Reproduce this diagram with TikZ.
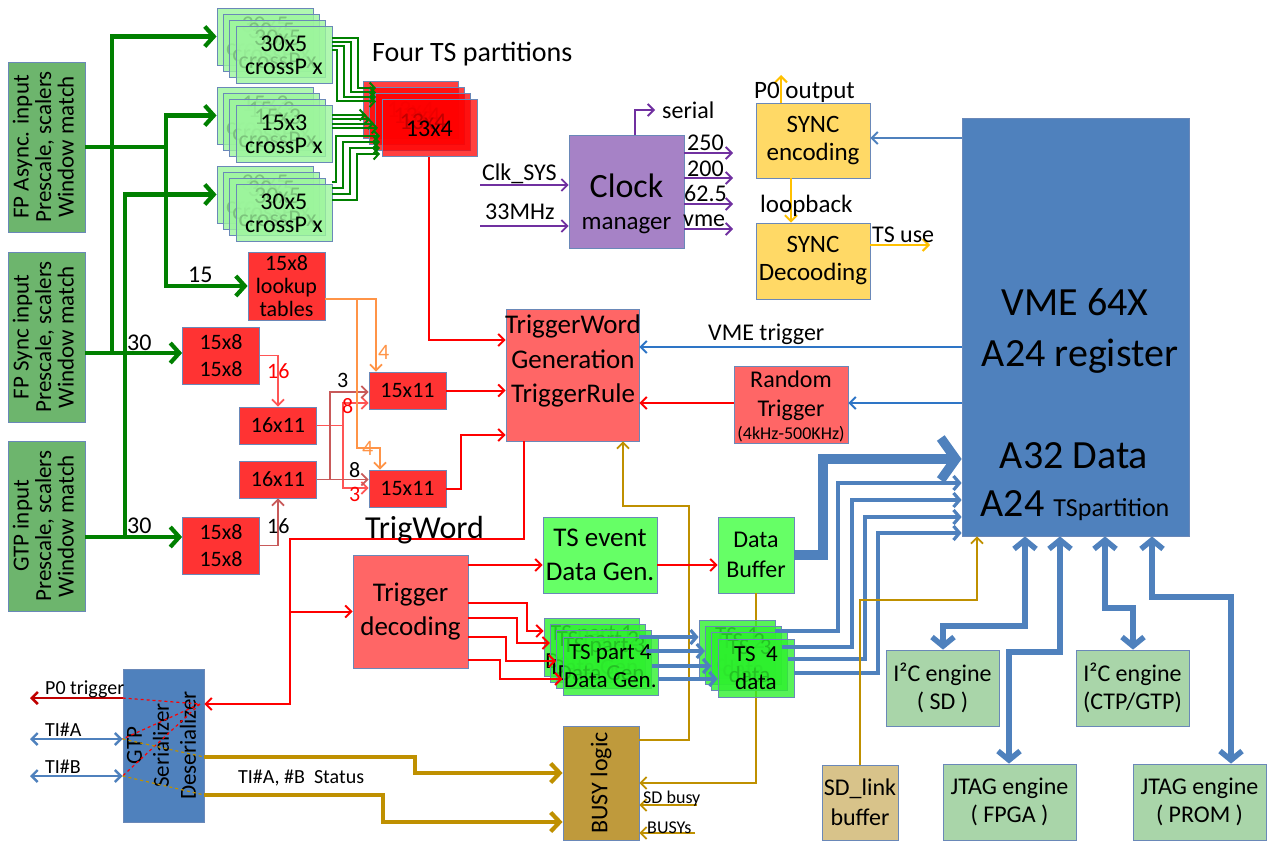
\documentclass[tikz,border=0pt]{standalone}
\usepackage{fontspec}
\usepackage{graphicx}
\setmainfont{Carlito}
\usetikzlibrary{arrows.meta,calc}
\newcommand{\fsz}[2]{\fontsize{#1}{#2}\selectfont}
\definecolor{lgreen}{HTML}{6DB56D}
\definecolor{cpgreen}{HTML}{9CF59C}
\definecolor{tsgreen}{HTML}{2EF02E}
\definecolor{brgreen}{HTML}{66FF66}
\definecolor{boxred}{HTML}{FF3333}
\definecolor{salmon}{HTML}{FF6666}
\definecolor{clockp}{HTML}{A682C6}
\definecolor{syncy}{HTML}{FFD966}
\definecolor{vmeblue}{HTML}{4F81BD}
\definecolor{busyc}{HTML}{BF9A3C}
\definecolor{sdlc}{HTML}{D8C38A}
\definecolor{engc}{HTML}{A9D5A9}
\definecolor{edgec}{HTML}{6A88B8}
\definecolor{gline}{HTML}{008000}
\definecolor{pline}{HTML}{7030A0}
\definecolor{bline}{HTML}{4F81BD}
\definecolor{vtline}{HTML}{2E75C6}
\definecolor{oline}{HTML}{FF9447}
\definecolor{lrline}{HTML}{FF5555}
\definecolor{brline}{HTML}{C85A5A}
\definecolor{goldl}{HTML}{BF9000}
\definecolor{yell}{HTML}{FFC000}
\definecolor{dred}{HTML}{C00000}
\definecolor{pureRed}{HTML}{FF0000}
\tikzset{
  bx/.style={draw=edgec, line width=0.8pt, inner sep=0pt, align=center, text=black},
  stk/.style={bx, fill opacity=0.8, text opacity=1},
  lbl/.style={inner sep=0pt, anchor=base west},
  lblc/.style={inner sep=0pt, anchor=base},
  sml/.style={-{Straight Barb[length=6pt,width=12pt]}},
  gthick/.style={draw=gline, line width=4.2pt, -{Straight Barb[length=9pt,width=20pt]}},
  gplain/.style={draw=gline, line width=4.2pt},
  gthin/.style={draw=gline, line width=2pt, -{Straight Barb[length=5pt,width=11pt]}},
  rarr/.style={draw=pureRed, line width=2pt, sml},
  lrarr/.style={draw=lrline, line width=1.8pt, sml},
  lrplain/.style={draw=lrline, line width=1.8pt},
  brarr/.style={draw=brline, line width=1.8pt, sml},
  oarr/.style={draw=oline, line width=1.8pt, sml},
  parr/.style={draw=pline, line width=1.8pt, sml},
  vtarr/.style={draw=vtline, line width=2pt, sml},
  barr/.style={draw=bline, line width=2pt, sml},
  bmed/.style={draw=bline, line width=3.2pt, -{Straight Barb[length=6pt,width=14pt]}},
  bthick/.style={draw=bline, line width=9.5pt, -{Straight Barb[length=15pt,width=42pt]}},
  bdbl/.style={draw=bline, line width=5.5pt, {Straight Barb[length=9pt,width=22pt]}-{Straight Barb[length=9pt,width=22pt]}},
  bdblthin/.style={draw=bline, line width=2.4pt, {Straight Barb[length=6pt,width=12pt]}-{Straight Barb[length=6pt,width=12pt]}},
  goldarr/.style={draw=goldl, line width=1.8pt, sml},
  goldthick/.style={draw=goldl, line width=4.2pt, -{Straight Barb[length=9pt,width=19pt]}},
  yarr/.style={draw=yell, line width=2pt, sml},
  dredarr/.style={draw=dred, line width=2.6pt, sml},
}
\begin{document}
\begin{tikzpicture}[x=1pt,y=-1pt]
\useasboundingbox (0,0) rectangle (1271,842);

% ---------- left input boxes
\node[bx, fill=lgreen, minimum width=77pt, minimum height=170pt] (fpa) at (46.5,147) {\rotatebox{90}{\fsz{23}{22}\begin{tabular}{@{}c@{}}FP Async. input\\Prescale, scalers\\Window match\end{tabular}}};
\node[bx, fill=lgreen, minimum width=77pt, minimum height=170pt] (fps) at (46.5,337) {\rotatebox{90}{\fsz{23}{22}\begin{tabular}{@{}c@{}}FP Sync input\\Prescale, scalers\\Window match\end{tabular}}};
\node[bx, fill=lgreen, minimum width=77pt, minimum height=170pt] (gtpin) at (46.5,526) {\rotatebox{90}{\fsz{23}{22}\begin{tabular}{@{}c@{}}GTP input\\Prescale, scalers\\Window match\end{tabular}}};

% ---------- crossP stacks
\foreach \i in {0,1,2,3} {
  \node[stk, fill=cpgreen, minimum width=96pt, minimum height=57pt, font=\fsz{24}{23}] (cpA\i) at ({265+6.3*\i},{36.5+6.3*\i}) {30x5\\crossP x};
}
\foreach \i in {0,1,2,3} {
  \node[stk, fill=cpgreen, minimum width=96pt, minimum height=57pt, font=\fsz{24}{23}] (cpB\i) at ({265+6.3*\i},{115.5+6.3*\i}) {15x3\\crossP x};
}
\foreach \i in {0,1,2,3} {
  \node[stk, fill=cpgreen, minimum width=96pt, minimum height=57pt, font=\fsz{24}{23}] (cpC\i) at ({265+6.3*\i},{194.5+6.3*\i}) {30x5\\crossP x};
}
% ---------- 13x4 stack
\foreach \i in {0,1,2,3} {
  \node[stk, fill=pureRed, fill opacity=0.75, minimum width=95pt, minimum height=57pt, font=\fsz{24}{24}] (tf\i) at ({410.5+6.3*\i},{109.5+6.3*\i}) {13x4};
}
\node[lbl, font=\fsz{28}{28}] (fourts) at (372,62) {Four TS partitions};

% ---------- red logic boxes
\node[bx, fill=boxred, minimum width=77pt, minimum height=68pt, font=\fsz{22}{23}] (lut) at (286.5,286) {15x8\\lookup\\tables};
\node[bx, fill=boxred, minimum width=77pt, minimum height=57pt, font=\fsz{22}{27}] (m1) at (221,355.5) {15x8\\15x8};
\node[bx, fill=boxred, minimum width=77pt, minimum height=57pt, font=\fsz{22}{27}] (m2) at (221,545.5) {15x8\\15x8};
\node[bx, fill=boxred, minimum width=77pt, minimum height=37pt, font=\fsz{22}{22}] (x1) at (278,425.5) {16x11};
\node[bx, fill=boxred, minimum width=77pt, minimum height=37pt, font=\fsz{22}{22}] (x2) at (278,479.5) {16x11};
\node[bx, fill=boxred, minimum width=77pt, minimum height=37pt, font=\fsz{22}{22}] (y1) at (407.5,390.5) {15x11};
\node[bx, fill=boxred, minimum width=77pt, minimum height=37pt, font=\fsz{22}{22}] (y2) at (407.5,488.5) {15x11};

% ---------- trigger word generation
\node[bx, fill=salmon, minimum width=133pt, minimum height=132pt] (tw) at (572.5,375) {};
\node[lblc, font=\fsz{27}{27}] (twA) at (573,333) {TriggerWord};
\node[lblc, font=\fsz{27}{27}] (twB) at (573,368) {Generation};
\node[lblc, font=\fsz{27}{27}] (twC) at (573,402) {TriggerRule};

\node[bx, fill=salmon, minimum width=114pt, minimum height=77pt] (rt) at (791,404.5) {};
\node[lblc, font=\fsz{24}{24}] (rtA) at (791,387) {Random};
\node[lblc, font=\fsz{24}{24}] (rtB) at (791,416) {Trigger};
\node[lblc, font=\fsz{18}{18}] (rtC) at (791,439) {(4kHz-500KHz)};

% ---------- clock
\node[bx, fill=clockp, minimum width=115pt, minimum height=113pt] (clk) at (626.5,191.5) {};
\node[lblc, font=\fsz{34}{34}] (clkA) at (626.5,198) {Clock};
\node[lblc, font=\fsz{25}{25}] (clkB) at (626.5,230) {manager};

\node[bx, fill=syncy, minimum width=114pt, minimum height=75pt, font=\fsz{25}{28}] (senc) at (813,140.5) {SYNC\\encoding};
\node[bx, fill=syncy, minimum width=114pt, minimum height=76pt, font=\fsz{25}{28}] (sdec) at (813,261) {SYNC\\Decooding};

% ---------- VME
\node[bx, fill=vmeblue, minimum width=227pt, minimum height=418pt] (vme) at (1075.5,327) {};
\node[lblc, font=\fsz{40}{40}] (vt1) at (1075,316) {VME 64X};
\node[lblc, font=\fsz{40}{40}] (vt2) at (1080,366) {A24 register};
\node[lblc, font=\fsz{40}{40}] (vt3) at (1074,468) {A32 Data};
\node[lblc, font=\fsz{40}{40}] (vt4) at (1075,516) {A24 {\fsz{26}{26}TSpartition}};

% ---------- lower middle
\node[bx, fill=salmon, minimum width=115pt, minimum height=113pt, font=\fsz{27}{34}] (td) at (410.5,611.5) {Trigger\\decoding};
\node[bx, fill=brgreen, minimum width=114pt, minimum height=76pt, font=\fsz{27}{34}] (te) at (600,555) {TS event\\Data Gen.};
\node[bx, fill=brgreen, minimum width=76pt, minimum height=76pt, font=\fsz{24}{30}] (db) at (756,555) {Data\\Buffer};
\node[bx, fill=busyc, minimum width=76pt, minimum height=114pt] (busy) at (601,783) {\rotatebox{90}{\fsz{24}{24}BUSY logic}};
\node[bx, fill=sdlc, minimum width=76pt, minimum height=75pt, font=\fsz{24}{30}] (sdl) at (860,802.5) {SD\_link\\buffer};

% ---------- gold lines under the stacks
\draw[goldarr] (busy.east |- 0,740) -| (689,506) -| (tw.south -| 623,0);
\draw[goldarr] (db.south) |- (busy.east);

\foreach \i/\n in {0/1,1/2,2/3,3/4} {
  \node[stk, fill=tsgreen, minimum width=95pt, minimum height=58pt, font=\fsz{23}{28}] (p\i) at ({591.5+6.3*\i},{647+6.3*\i}) {TS part \n\\Data Gen.};
}
\foreach \i/\n in {0/1,1/2,2/3,3/4} {
  \node[stk, fill=tsgreen, minimum width=76pt, minimum height=58pt, font=\fsz{23}{28}] (d\i) at ({737+6.3*\i},{649+6.3*\i}) {TS\ \ \n\\data};
}

% ---------- engines
\node[bx, fill=engc, minimum width=113pt, minimum height=76pt, font=\fsz{24}{28}] (i2c1) at (942.5,688) {I²C engine\\( SD )};
\node[bx, fill=engc, minimum width=113pt, minimum height=76pt, font=\fsz{24}{28}] (i2c2) at (1132.5,688) {I²C engine\\(CTP/GTP)};
\node[bx, fill=engc, minimum width=133pt, minimum height=76pt, font=\fsz{24}{28}] (jf) at (1009.5,802) {JTAG engine\\( FPGA )};
\node[bx, fill=engc, minimum width=133pt, minimum height=76pt, font=\fsz{24}{28}] (jp) at (1199.5,802) {JTAG engine\\( PROM )};

% ---------- GTP serializer
\node[bx, fill=vmeblue, minimum width=77pt, minimum height=153pt] (gtp) at (163.5,745.5) {\rotatebox{90}{\fsz{23}{27}\begin{tabular}{@{}c@{}}GTP\\Serializer\\Deserializer\end{tabular}}};

% ================= connectors =================
% green thick
\draw[gplain] (fpa.east) -- (166,147);
\draw[gthick] (166,147) |- (cpB0.west);
\draw[gthick] (166,147) |- (lut.west);
\draw[gthick] (fps.east |- 0,353) -- (m1.west |- 0,353);
\draw[gthick] (112,353) |- (cpA0.west);
\draw[gthick] (gtpin.east |- 0,537) -- (m2.west |- 0,537);
\draw[gthick] (125,537) |- (cpC0.west);
\node[lbl, font=\fsz{24}{24}] (n30a) at (127,350) {30};
\node[lbl, font=\fsz{24}{24}] (n30b) at (127,533) {30};
\node[lbl, font=\fsz{24}{24}] (n15) at (188,283) {15};

% green thin bundles to 13x4
\foreach \i in {0,1,2,3} {
  \draw[gthin] (cpA3.east |- 0,{38+4*\i}) -- ({358-7*\i},{38+4*\i}) -- ({358-7*\i},{88+4.5*\i}) -- (376,{88+4.5*\i});
  \draw[gthin] (cpB3.east |- 0,{115+4.3*\i}) -- ({366+4*\i},{115+4.3*\i});
  \draw[gthin] (cpC3.east |- 0,{182+6*\i}) -- ({336+7*\i},{182+6*\i}) -- ({336+7*\i},{136+6*\i}) -- (380,{136+6*\i});
}

% 13x4 to trigger word
\draw[rarr] (tf3.south) |- (tw.west |- 0,340);

% lookup / 16x11 / 15x11 network
\draw[lrarr] (m1.east) -| (x1.north);
\draw[brarr] (m2.east) -| (x2.south);
\node[lbl, font=\fsz{22}{22}, text=pureRed] (n16a) at (267,378) {16};
\node[lbl, font=\fsz{22}{22}] (n16b) at (267,533) {16};
\draw[lrplain] (x1.east) -- (343,425.5);
\draw[lrarr] (343,425.5) |- (y1.west |- 0,403);
\draw[lrarr] (343,425.5) |- (y2.west |- 0,488);
\draw[brarr] (x2.east) -- (y2.west |- x2.east);
\draw[brarr] (x2.east) -- (330,479.5) |- (y1.west |- 0,392);
\draw[oarr] (lut.east |- 0,299) -| (y1.north -| 376,0);
\draw[oarr] (357,299) -- (357,448) -| (y2.north -| 380,0);
\node[lbl, font=\fsz{22}{22}, text=oline] (n4a) at (378,359) {4};
\node[lbl, font=\fsz{22}{22}, text=oline] (n4b) at (362,455) {4};
\node[lbl, font=\fsz{22}{22}] (n3a) at (337,387) {3};
\node[lbl, font=\fsz{22}{22}, text=pureRed] (n8a) at (342,413) {8};
\node[lbl, font=\fsz{22}{22}] (n8b) at (349,477) {8};
\node[lbl, font=\fsz{22}{22}, text=pureRed] (n3b) at (349,501) {3};
\draw[rarr] (y1.east) -- (tw.west |- y1.east);
\draw[rarr] (y2.east) -- (461,488.5) |- (tw.west |- 0,435);

% trigword loop
\draw[rarr] (tw.south -| 524,0) |- (290,539) |- (gtp.east |- 0,704);
\draw[rarr] (290,611.5) -- (td.west);
\node[lbl, font=\fsz{32}{32}] (trigword) at (365,538) {TrigWord};

% trigger decoding outputs
\draw[rarr] (td.east |- 0,565) -- (te.west |- 0,565);
\draw[rarr] (te.east |- 0,565) -- (db.west |- 0,565);
\draw[rarr] (td.east |- 0,603) -- (527,603) -- (527,631) -- (p0.west |- 0,631);
\draw[rarr] (td.east |- 0,618) -- (517,618) -- (517,643) -- (p1.west |- 0,643);
\draw[rarr] (td.east |- 0,637) -- (506,637) -- (506,661) -- (p2.west |- 0,661);
\draw[rarr] (td.east |- 0,660) -- (500,660) -- (500,679) -- (p3.west |- 0,679);

% TS part -> TS data
\draw[bmed] (p0.east |- 0,637) -- (d0.west |- 0,637);
\draw[bmed] (p1.east |- 0,651) -- (d1.west |- 0,651);
\draw[bmed] (p2.east |- 0,666) -- (d2.west |- 0,666);
\draw[bmed] (p3.east |- 0,679) -- (d3.west |- 0,679);

% TS data -> VME
\draw[bmed] (d0.east |- 0,631) -| (838,483) -- (vme.west |- 0,483);
\draw[bmed] (d1.east |- 0,647) -| (852,500) -- (vme.west |- 0,500);
\draw[bmed] (d2.east |- 0,659) -| (865,517) -- (vme.west |- 0,517);
\draw[bmed] (d3.east |- 0,673) -| (878,533) -- (vme.west |- 0,533);

% data buffer -> VME
\draw[bthick] (db.east) -- (823,555) |- (vme.west |- 0,459);

% VME -> engines
\draw[bdbl] (vme.south -| 1025,0) |- (943,626) -- (i2c1.north -| 943,0);
\draw[bdbl] (vme.south -| 1060,0) |- (1009,652) -- (jf.north -| 1009,0);
\draw[bdbl] (vme.south -| 1105,0) |- (1133,608) -- (i2c2.north -| 1133,0);
\draw[bdbl] (vme.south -| 1152,0) |- (1231,597) -- (jp.north -| 1231,0);

% gold
\draw[goldarr] (697,805) -- (busy.east |- 0,805);
\draw[goldarr] (695,833) -- (busy.east |- 0,833);
\node[lbl, font=\fsz{18}{18}] (sdbusy) at (643,803) {SD busy};
\node[lbl, font=\fsz{18}{18}] (busys) at (647,833) {BUSYs};
\draw[goldarr] (sdl.north) |- (977,600) -- (vme.south -| 977,0);
\draw[goldthick] (gtp.east |- 0,757) -| (415,773) -- (busy.west |- 0,773);
\draw[goldthick] (gtp.east |- 0,795) -| (383,822) -- (busy.west |- 0,822);
\node[lbl, font=\fsz{20}{20}] (tistat) at (238,783) {TI\#A, \#B\ \ Status};

% GTP
\draw[dredarr] (gtp.west |- 0,698) -- (30,698);
\draw[bdblthin] (30,739) -- (gtp.west |- 0,739);
\draw[bdblthin] (30,776) -- (gtp.west |- 0,776);
\node[lbl, font=\fsz{20}{20}] (p0trig) at (45,694) {P0 trigger};
\node[lbl, font=\fsz{20}{20}] (tia) at (45,736) {TI\#A};
\node[lbl, font=\fsz{20}{20}] (tib) at (45,773) {TI\#B};
\draw[pureRed, dashed, line width=1.2pt] (gtp.west |- 0,698) -- (200,704) -- (gtp.west |- 0,739);
\draw[pureRed, dashed, line width=1.2pt] (200,704) -- (gtp.west |- 0,776);
\draw[goldl, dashed, line width=1.2pt] (gtp.west |- 0,739) -- (gtp.east |- 0,757);
\draw[goldl, dashed, line width=1.2pt] (gtp.west |- 0,776) -- (gtp.east |- 0,795);

% clock
\draw[parr] (480,185) -- (clk.west |- 0,185);
\draw[parr] (480,226) -- (clk.west |- 0,226);
\node[lbl, font=\fsz{24}{24}] (clksys) at (482,181) {Clk\_SYS};
\node[lbl, font=\fsz{24}{24}] (m33) at (485,220) {33MHz};
\draw[parr] (clk.east |- 0,153) -- (733,153);
\draw[parr] (clk.east |- 0,178) -- (733,178);
\draw[parr] (clk.east |- 0,204) -- (733,204);
\draw[parr] (clk.east |- 0,229) -- (733,229);
\node[lbl, font=\fsz{24}{24}] (f250) at (687,151) {250};
\node[lbl, font=\fsz{24}{24}] (f200) at (687,177) {200};
\node[lbl, font=\fsz{24}{24}] (f625) at (684,202) {62.5};
\node[lbl, font=\fsz{24}{24}] (fvme) at (683,227) {vme};
\draw[parr] (clk.north -| 635,0) |- (655,110);
\node[lbl, font=\fsz{24}{24}] (serial) at (662,119) {serial};

% sync
\draw[yarr] (senc.north -| 781,0) -- (781,75);
\draw[yarr] (senc.south -| 791,0) -- (sdec.north -| 791,0);
\draw[yarr] (sdec.east |- 0,245) -- (930,245);
\node[lbl, font=\fsz{25}{25}] (p0out) at (754,99) {P0 output};
\node[lbl, font=\fsz{25}{25}] (loopb) at (760,213) {loopback};
\node[lbl, font=\fsz{24}{24}] (tsuse) at (872,243) {TS use};
\draw[barr] (vme.west |- 0,138) -- (senc.east |- 0,138);

% VME trigger / random
\draw[vtarr] (vme.west |- 0,347) -- (tw.east |- 0,347);
\node[lbl, font=\fsz{24}{24}] (vmetrig) at (708,340) {VME trigger};
\draw[vtarr] (vme.west |- 0,403) -- (rt.east |- 0,403);
\draw[rarr] (rt.west |- 0,403) -- (tw.east |- 0,403);

\end{tikzpicture}
\end{document}
